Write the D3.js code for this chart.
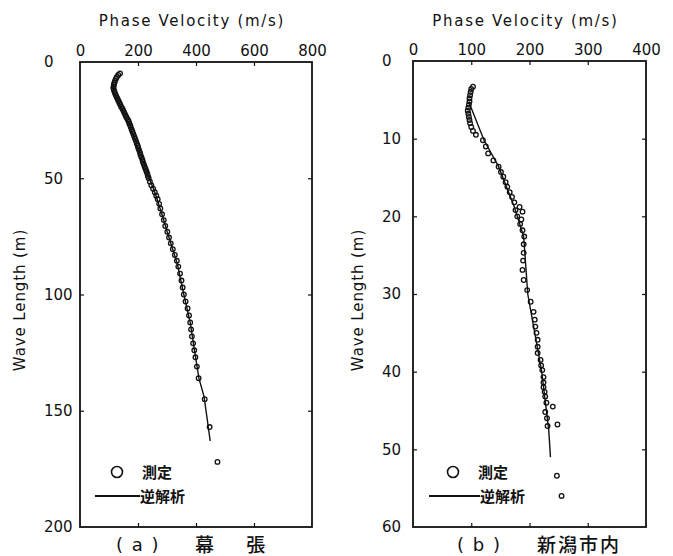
<!DOCTYPE html>
<html>
<head>
<meta charset="utf-8">
<script src="https://d3js.org/d3.v7.min.js"></script>
<style>
  body { margin: 0; background: #fff; }
  svg text { font-family: 'DejaVu Sans', sans-serif; fill: #111; }
  .jp { font-family: 'Noto Sans CJK JP', sans-serif; }
</style>
</head>
<body>
<svg id="chart" width="673" height="556"></svg>
<script>
// panel (a) 幕張 : [wave length (m), phase velocity (m/s)]
const xTicksA = [0, 200, 400, 600, 800];
const yTicksA = [0, 50, 100, 150, 200];
const obsA = [
  [4.9,138],[5.6,132],[6.4,127],[7.2,124],[8.0,121],[8.8,119],[9.6,117],[10.4,116],[11.2,115],
  [12.0,117],[12.8,119],[13.6,121],[14.4,124],[15.2,127],[16.0,130],[16.8,133],[17.6,136],
  [18.4,139],[19.2,142],[20.0,146],[20.8,149],[21.6,152],[22.4,155],[23.2,158],[24.0,161],
  [24.8,165],[25.6,168],[26.4,170],[27.2,173],[28.0,175],[29.0,178],[30.0,181],[31.0,184],
  [32.0,187],[33.0,190],[34.0,193],[35.0,196],[36.0,199],[37.0,201],[38.0,204],[39.0,207],
  [40.0,209],[41.0,212],[42.0,215],[43.0,217],[44.0,220],[45.0,223],[46.0,226],[47.0,229],
  [48.0,232],[49.0,234],[50.0,237],[51.5,241],[53.0,246],[54.5,252],[56.0,258],[57.5,263],
  [59.0,268],[61.0,273],[63.0,277],[65.5,283],[68.0,289],[70.5,294],[73.0,301],[75.5,307],
  [78.0,313],[80.5,320],[83.0,327],[85.5,334],[88.0,339],[91.0,345],[94.0,350],[97.0,354],
  [100.0,358],[103.0,364],[106.0,371],[109.0,376],[112.0,380],[115.0,383],[118.0,386],
  [121.0,390],[124.0,394],[127.0,398],[131.0,403],[136.0,409],[145.0,430],[157.0,447],[172.0,474]
];
const fitA = [
  [10,113],[13,117],[18,137],[26,168],[35,195],[46,226],[56,258],[66,284],[74,303],
  [87,336],[100,358],[112,380],[125,396],[136,410],[144,428],[163,449]
];

// panel (b) 新潟市内
const xTicksB = [0, 100, 200, 300, 400];
const yTicksB = [0, 10, 20, 30, 40, 50, 60];
const obsB = [
  [3.3,103],[3.6,100],[4.0,99],[4.4,98],[4.8,97],[5.2,97],[5.6,96],[6.0,95],[6.4,94],[6.8,95],
  [7.2,96],[7.6,97],[8.0,98],[8.5,100],[9.0,103],[9.5,108],[10.2,120],[11.0,125],[11.9,129],
  [12.8,138],[13.6,147],[14.3,151],[14.9,155],[15.6,159],[16.2,162],[16.9,166],[17.5,170],
  [18.2,174],[18.8,183],[19.2,176],[19.4,188],[20.0,179],[20.4,186],[21.0,184],[21.8,188],
  [22.6,191],[23.6,190],[24.7,190],[25.7,189],[26.9,188],[28.2,190],[29.5,196],[31.0,202],
  [32.3,207],[33.3,209],[34.2,210],[35.0,212],[35.9,214],[36.8,214],[37.6,214],[38.5,219],
  [39.2,220],[39.8,222],[40.7,224],[41.4,224],[42.0,224],[42.6,226],[43.2,227],[44.0,229],
  [44.5,240],[45.2,227],[46.0,230],[46.8,248],[47.0,231],[53.4,247],[56.0,255]
];
const fitB = [
  [5.3,96],[10.2,122],[13.6,147],[18.8,174],[22.6,190],[30,197],[40,221],[47.5,233],[51,236]
];

const legendLabels = ["測定", "逆解析"];
const xTitle = "Phase Velocity (m/s)";
const yTitle = "Wave Length (m)";

const svg = d3.select("#chart");

function drawPanel(p) {
  const x = d3.scaleLinear().domain([p.xTicks[0], p.xTicks[p.xTicks.length - 1]]).range([p.left, p.right]);
  const y = d3.scaleLinear().domain([p.yTicks[0], p.yTicks[p.yTicks.length - 1]]).range([p.top, p.bottom]);
  const g = svg.append("g");
  const inner = p.xTicks.slice(1, -1), innerY = p.yTicks.slice(1, -1);

  // top axis with labels
  const top = g.append("g").attr("transform", `translate(0,${p.top})`)
    .call(d3.axisTop(x).tickValues(p.xTicks).tickSizeInner(0).tickSizeOuter(0).tickPadding(6));
  top.selectAll("text").style("font-size", "15px");
  g.append("g").attr("transform", `translate(0,${p.top})`)
    .call(d3.axisTop(x).tickValues(inner).tickSizeInner(-4).tickSizeOuter(0).tickFormat(""));
  g.append("g").attr("transform", `translate(0,${p.bottom})`)
    .call(d3.axisBottom(x).tickValues(inner).tickSizeInner(-4).tickSizeOuter(0).tickFormat(""));

  // left axis with labels
  const left = g.append("g").attr("transform", `translate(${p.left},0)`)
    .call(d3.axisLeft(y).tickValues(p.yTicks).tickSizeInner(0).tickSizeOuter(0));
  left.selectAll("text").style("font-size", "15px")
    .attr("text-anchor", "start").attr("x", p.yLabelX - p.left);
  g.append("g").attr("transform", `translate(${p.left},0)`)
    .call(d3.axisLeft(y).tickValues(innerY).tickSizeInner(-4).tickSizeOuter(0).tickFormat(""));
  g.append("g").attr("transform", `translate(${p.right},0)`)
    .call(d3.axisRight(y).tickValues(innerY).tickSizeInner(-4).tickSizeOuter(0).tickFormat(""));
  g.selectAll(".domain").remove();
  g.selectAll(".tick line").attr("stroke", "#111").attr("stroke-width", 1.2);

  g.append("rect")
    .attr("x", p.left).attr("y", p.top)
    .attr("width", p.right - p.left).attr("height", p.bottom - p.top)
    .attr("fill", "none").attr("stroke", "#111").attr("stroke-width", 1.8);

  // titles
  g.append("text").attr("x", (p.left + p.right) / 2 - 4).attr("y", 26)
    .attr("text-anchor", "middle").style("font-size", "15px").style("letter-spacing", "1.7px")
    .text(xTitle);
  g.append("text")
    .attr("transform", `translate(${p.yTitleX},${p.yTitleY}) rotate(-90)`)
    .attr("text-anchor", "middle").style("font-size", "15px").style("letter-spacing", "0.9px")
    .text(yTitle);

  // inverse-analysis line
  g.append("path").datum(p.fit)
    .attr("fill", "none").attr("stroke", "#111").attr("stroke-width", 1.4)
    .attr("d", d3.line().x(d => x(d[1])).y(d => y(d[0])));

  // measured points
  g.append("g").selectAll("circle").data(p.obs).join("circle")
    .attr("cx", d => x(d[1])).attr("cy", d => y(d[0])).attr("r", 2.3)
    .attr("fill", "none").attr("stroke", "#111").attr("stroke-width", 1.3);

  // legend
  g.append("circle").attr("cx", p.legX).attr("cy", 472).attr("r", 5.5)
    .attr("fill", "none").attr("stroke", "#111").attr("stroke-width", 1.6);
  g.append("text").attr("class", "jp").attr("x", p.legX + 25).attr("y", 478)
    .style("font-size", "15px").style("font-weight", "bold").text(legendLabels[0]);
  g.append("line").attr("x1", p.lineX1).attr("x2", p.lineX2).attr("y1", 496).attr("y2", 496)
    .attr("stroke", "#111").attr("stroke-width", 2);
  g.append("text").attr("class", "jp").attr("x", p.lineX2).attr("y", 502)
    .style("font-size", "15px").style("font-weight", "bold").text(legendLabels[1]);

  // caption
  g.append("text").attr("x", p.capX).attr("y", 551)
    .style("font-size", "18px").style("letter-spacing", "1.5px").text(p.capTag);
  g.append("text").attr("class", "jp").attr("x", p.capJpX).attr("y", 552)
    .style("font-size", "19px").style("font-weight", 500).style("letter-spacing", p.capSpacing)
    .text(p.capName);
}

drawPanel({
  xTicks: xTicksA, yTicks: yTicksA, obs: obsA, fit: fitA,
  left: 80, right: 312, top: 62, bottom: 527,
  yLabelX: 44, yTitleX: 25, yTitleY: 300,
  legX: 117, lineX1: 95, lineX2: 140,
  capX: 116, capTag: "( a )", capJpX: 195, capName: "幕 張", capSpacing: "14px"
});
drawPanel({
  xTicks: xTicksB, yTicks: yTicksB, obs: obsB, fit: fitB,
  left: 413, right: 646, top: 61, bottom: 527,
  yLabelX: 382, yTitleX: 363, yTitleY: 300,
  legX: 453, lineX1: 429, lineX2: 480,
  capX: 457, capTag: "( b )", capJpX: 537, capName: "新潟市内", capSpacing: "2px"
});
</script>
</body>
</html>
